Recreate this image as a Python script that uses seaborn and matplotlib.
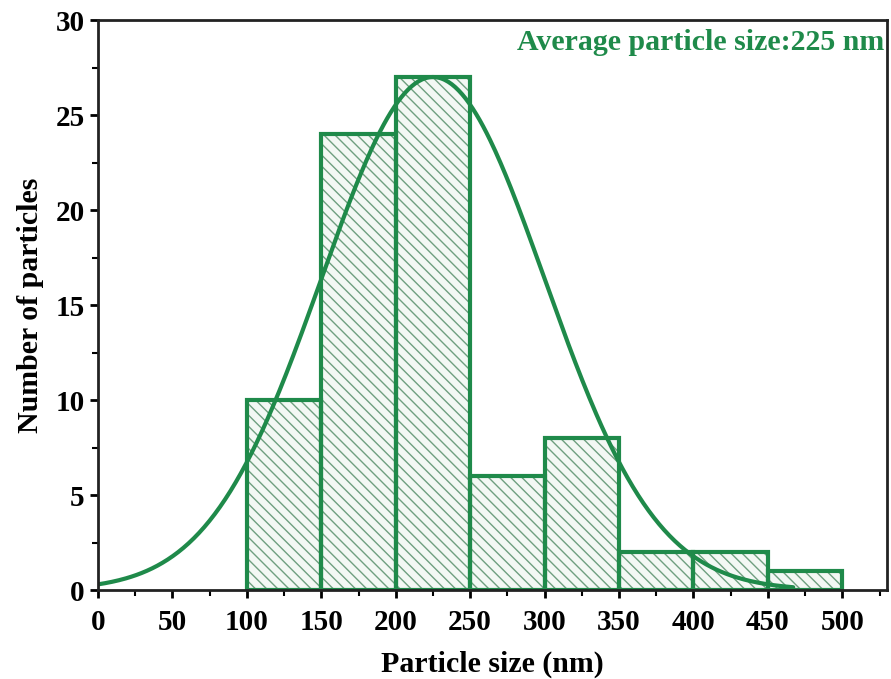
import numpy as np
import pandas as pd
import matplotlib
matplotlib.use("Agg")
import matplotlib.pyplot as plt
import seaborn as sns
from matplotlib.ticker import MultipleLocator

# Data
bin_edges = [100, 150, 200, 250, 300, 350, 400, 450, 500]
counts = [10, 24, 27, 6, 8, 2, 2, 1]
# Gaussian fit parameters (displayed fit curve)
fit_mean = 225.0
fit_sigma = 75.0
fit_amp = 27.0
fit_range = (0, 467)
annotation = "Average particle size:225 nm"

sns.set_theme(style="ticks")
plt.rcParams['font.family'] = ['Liberation Serif', 'DejaVu Serif']
plt.rcParams['font.weight'] = 'bold'
plt.rcParams['hatch.linewidth'] = 1.0

green = "#1f8a4a"
hatch_green = "#6f9f80"

centers = [(a + b) / 2 for a, b in zip(bin_edges[:-1], bin_edges[1:])]
df = pd.DataFrame({"size": centers, "count": counts})

fig = plt.figure(figsize=(8.91, 6.79), dpi=100)
ax = fig.add_axes([0.110, 0.131, 0.8855, 0.8395])

# hatched fill
sns.histplot(data=df, x="size", weights="count", bins=bin_edges, ax=ax,
             color="#f3f8f4", edgecolor=hatch_green, linewidth=0, alpha=1)
for p in ax.patches:
    p.set_hatch("\\\\\\")
# outlines
sns.histplot(data=df, x="size", weights="count", bins=bin_edges, ax=ax,
             fill=False, color=green, edgecolor=green, linewidth=3, element="bars")

xs = np.linspace(fit_range[0], fit_range[1], 400)
ys = fit_amp * np.exp(-(xs - fit_mean) ** 2 / (2 * fit_sigma ** 2))
sns.lineplot(x=xs, y=ys, ax=ax, color=green, linewidth=3)

ax.set_xlim(0, 530)
ax.set_ylim(0, 30)
ax.xaxis.set_major_locator(MultipleLocator(50))
ax.xaxis.set_minor_locator(MultipleLocator(25))
ax.yaxis.set_major_locator(MultipleLocator(5))
ax.yaxis.set_minor_locator(MultipleLocator(2.5))
ax.set_xticks(range(0, 501, 50))
ax.tick_params(which='major', direction='out', length=6, width=2, labelsize=21,
               top=False, right=False, colors='black')
ax.tick_params(axis='x', which='major', pad=8)
ax.tick_params(which='minor', direction='out', length=4, width=1.5,
               top=False, right=False, colors='black')
for lbl in ax.get_xticklabels() + ax.get_yticklabels():
    lbl.set_fontweight('bold')
for s in ax.spines.values():
    s.set_linewidth(2)
    s.set_color('#222222')

ax.set_xlabel("Particle size (nm)", fontsize=21.5, fontweight='bold',
              labelpad=10, color='black')
ax.set_ylabel("Number of particles", fontsize=21.5, fontweight='bold',
              labelpad=8, color='black')

ax.text(0.997, 0.985, annotation, transform=ax.transAxes, ha='right', va='top',
        color=green, fontsize=21.5, fontweight='bold')

fig.savefig("out.png", dpi=100)
